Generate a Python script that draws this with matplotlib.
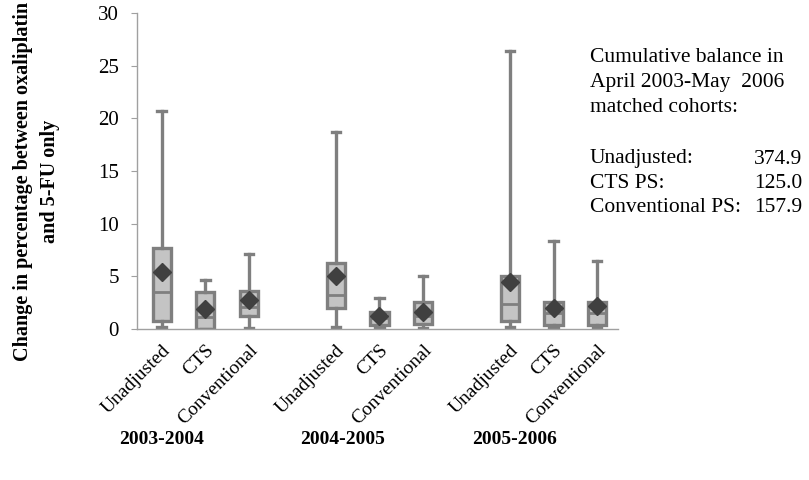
import matplotlib
matplotlib.use("Agg")
import matplotlib.pyplot as plt
from matplotlib.transforms import blended_transform_factory

# Box-plot summaries per cohort period and adjustment method
periods = ["2003-2004", "2004-2005", "2005-2006"]
methods = ["Unadjusted", "CTS", "Conventional"]

whisker_low = [0.15, 0.0, 0.1,   0.2, 0.05, 0.05,   0.15, 0.1, 0.1]
q1          = [0.8,  0.0, 1.2,   1.95, 0.35, 0.45,  0.75, 0.35, 0.35]
median      = [3.5,  1.1, 2.1,   3.2, 1.0, 1.25,    2.4, 1.5, 1.5]
q3          = [7.7,  3.55, 3.65, 6.3, 1.65, 2.6,    5.0, 2.6, 2.6]
whisker_high = [20.7, 4.65, 7.1, 18.7, 2.95, 5.0,   26.4, 8.4, 6.5]
means       = [5.45, 1.87, 2.75, 5.0, 1.2, 1.65,    4.5, 1.95, 2.15]

summary_title = ["Cumulative balance in", "April 2003-May  2006", "matched cohorts:"]
summary_labels = ["Unadjusted:", "CTS PS:", "Conventional PS:"]
summary_values = ["374.9", "125.0", "157.9"]

plt.rcParams["font.family"] = ["Liberation Serif", "DejaVu Serif"]

W, H = 809, 480
fig = plt.figure(figsize=(W / 100, H / 100), dpi=100)
ax = fig.add_axes([137 / W, 1 - 329 / H, (618 - 137) / W, (329 - 13) / H])

positions = []
labels = []
for g in range(len(periods)):
    for m in range(len(methods)):
        positions.append(g * 4 + m)
        labels.append(methods[m])

stats = []
for i in range(len(positions)):
    stats.append(dict(whislo=whisker_low[i], q1=q1[i], med=median[i],
                      q3=q3[i], whishi=whisker_high[i], mean=means[i],
                      fliers=[]))

edge = "#7f7f7f"
ax.bxp(stats, positions=positions, widths=0.42, patch_artist=True,
       showmeans=True, showfliers=False, capwidths=0.2,
       boxprops=dict(facecolor="#c4c4c4", edgecolor=edge, linewidth=2.4),
       medianprops=dict(color=edge, linewidth=2.0),
       whiskerprops=dict(color=edge, linewidth=2.4),
       capprops=dict(color=edge, linewidth=2.4),
       meanprops=dict(marker="D", markerfacecolor="#404040",
                      markeredgecolor="#404040", markersize=9))

ax.set_ylim(0, 30)
ax.set_xlim(-0.57, 10.48)
ax.set_yticks([0, 5, 10, 15, 20, 25, 30])
ax.tick_params(axis="y", labelsize=15, length=4, color="#a0a0a0", pad=9)
ax.set_xticks(positions)
ax.set_xticklabels(labels, rotation=45, ha="right", rotation_mode="anchor",
                   fontsize=14)
ax.tick_params(axis="x", length=0, pad=9)
for s in ["top", "right"]:
    ax.spines[s].set_visible(False)
for s in ["left", "bottom"]:
    ax.spines[s].set_color("#a0a0a0")
    ax.spines[s].set_linewidth(1.0)

# Period labels under each group
group_x = [0.0, 4.15, 8.1]
period_tf = blended_transform_factory(ax.transData, fig.transFigure)
for gx, p in zip(group_x, periods):
    ax.text(gx, 1 - 439 / H, p, transform=period_tf, ha="center", va="center",
            fontsize=14, fontweight="bold")

# Y-axis title (two lines)
fig.text(23 / W, 1 - 181 / H, "Change in percentage between oxaliplatin",
         rotation=90, ha="center", va="center", fontsize=14.5, fontweight="bold")
fig.text(50 / W, 1 - 181 / H, "and 5-FU only",
         rotation=90, ha="center", va="center", fontsize=14.5, fontweight="bold")

# Cumulative balance summary
for i, line in enumerate(summary_title):
    fig.text(590 / W, 1 - (57 + 25 * i) / H, line, ha="left", va="center",
             fontsize=15.5)
for i, (lab, val) in enumerate(zip(summary_labels, summary_values)):
    y = 1 - (159 + 24.5 * i) / H
    fig.text(590 / W, y, lab, ha="left", va="center", fontsize=15.5)
    fig.text(802 / W, y, val, ha="right", va="center", fontsize=15.5)

fig.savefig("out.png", dpi=100)
